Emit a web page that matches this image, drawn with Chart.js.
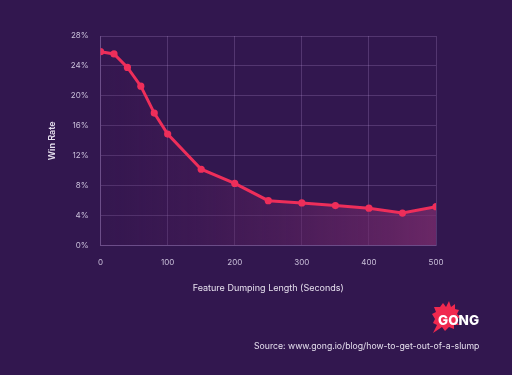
<!DOCTYPE html>
<html>
<head>
<meta charset="utf-8">
<script src="https://cdn.jsdelivr.net/npm/chart.js@4"></script>
<style>
  html, body { margin: 0; padding: 0; background: #32174f; }
  #wrap { position: relative; width: 512px; height: 375px; }
  #source { position: absolute; left: 254px; top: 341px; font: 8.7px Inter, sans-serif; color: #e6e0ee; white-space: nowrap; }
  #logo { position: absolute; left: 430px; top: 298px; }
</style>
</head>
<body>
<div id="wrap">
  <canvas id="chart" width="512" height="375"></canvas>
  <svg id="logo" width="60" height="40" viewBox="0 0 60 40">
    <polygon fill="#f0294f" points="10,9 13,5 16,9 19,3 21,9 25,6 25,11 29,12 27,16 30,19 26,22 29,27 24,27 24,31 19,29 15,33 12,29 3,35 7,27 3,25 5,21 2,16 6,14 4,9"/>
    <text x="8" y="27" font-family="Inter, sans-serif" font-weight="800" font-size="13.5" fill="#ffffff">GONG</text>
  </svg>
  <div id="source">Source: www.gong.io/blog/how-to-get-out-of-a-slump</div>
</div>
<script>
// Feature dumping length (seconds) vs win rate (%)
const seconds = [0, 20, 40, 60, 80, 100, 150, 200, 250, 300, 350, 400, 450, 500];
const winRate = [25.9, 25.6, 23.8, 21.3, 17.7, 14.9, 10.2, 8.3, 6.0, 5.7, 5.35, 5.0, 4.35, 5.2];
const yTicks = [0, 4, 8, 12, 16, 20, 24, 28];
const xTicks = [0, 100, 200, 300, 400, 500];

const tickColor = '#c9bfd9';
const gridColor = 'rgba(200, 170, 230, 0.22)';

function fillGradient(context) {
    const area = context.chart.chartArea;
    if (!area) return 'rgba(0,0,0,0)';
    const g = context.chart.ctx.createLinearGradient(area.left, 0, area.right, 0);
    g.addColorStop(0, 'rgba(70, 25, 85, 0.15)');
    g.addColorStop(1, 'rgba(125, 45, 110, 0.75)');
    return g;
}

const ctx = document.getElementById('chart').getContext('2d');
new Chart(ctx, {
    type: 'line',
    data: {
        datasets: [{
            data: seconds.map((s, i) => ({ x: s, y: winRate[i] })),
            borderColor: '#ee2e5a',
            borderWidth: 3,
            pointBackgroundColor: '#ee2e5a',
            pointBorderWidth: 0,
            pointRadius: 3.6,
            fill: 'origin',
            backgroundColor: fillGradient,
            tension: 0
        }]
    },
    options: {
        responsive: false,
        animation: false,
        layout: { padding: { left: 43, right: 76, top: 36, bottom: 77 } },
        plugins: { legend: { display: false }, tooltip: { enabled: false } },
        scales: {
            x: {
                type: 'linear',
                min: 0,
                max: 500,
                afterBuildTicks: axis => { axis.ticks = xTicks.map(v => ({ value: v })); },
                grid: { color: gridColor, drawTicks: false },
                border: { color: gridColor },
                ticks: { color: tickColor, padding: 12, font: { family: 'Inter', size: 8 } },
                title: { display: true, text: 'Feature Dumping Length (Seconds)', color: '#e6e0ee',
                         font: { family: 'Inter', size: 9 }, padding: { top: 4 } }
            },
            y: {
                min: 0,
                max: 28,
                afterBuildTicks: axis => { axis.ticks = yTicks.map(v => ({ value: v })); },
                grid: { color: gridColor, drawTicks: false },
                border: { color: gridColor },
                ticks: { color: tickColor, padding: 12, font: { family: 'Inter', size: 8 },
                         callback: v => v + '%' },
                title: { display: true, text: 'Win Rate', color: '#e6e0ee',
                         font: { family: 'Inter', size: 9, weight: '600' }, padding: { top: 4, bottom: 1 } }
            }
        }
    }
});
</script>
</body>
</html>
